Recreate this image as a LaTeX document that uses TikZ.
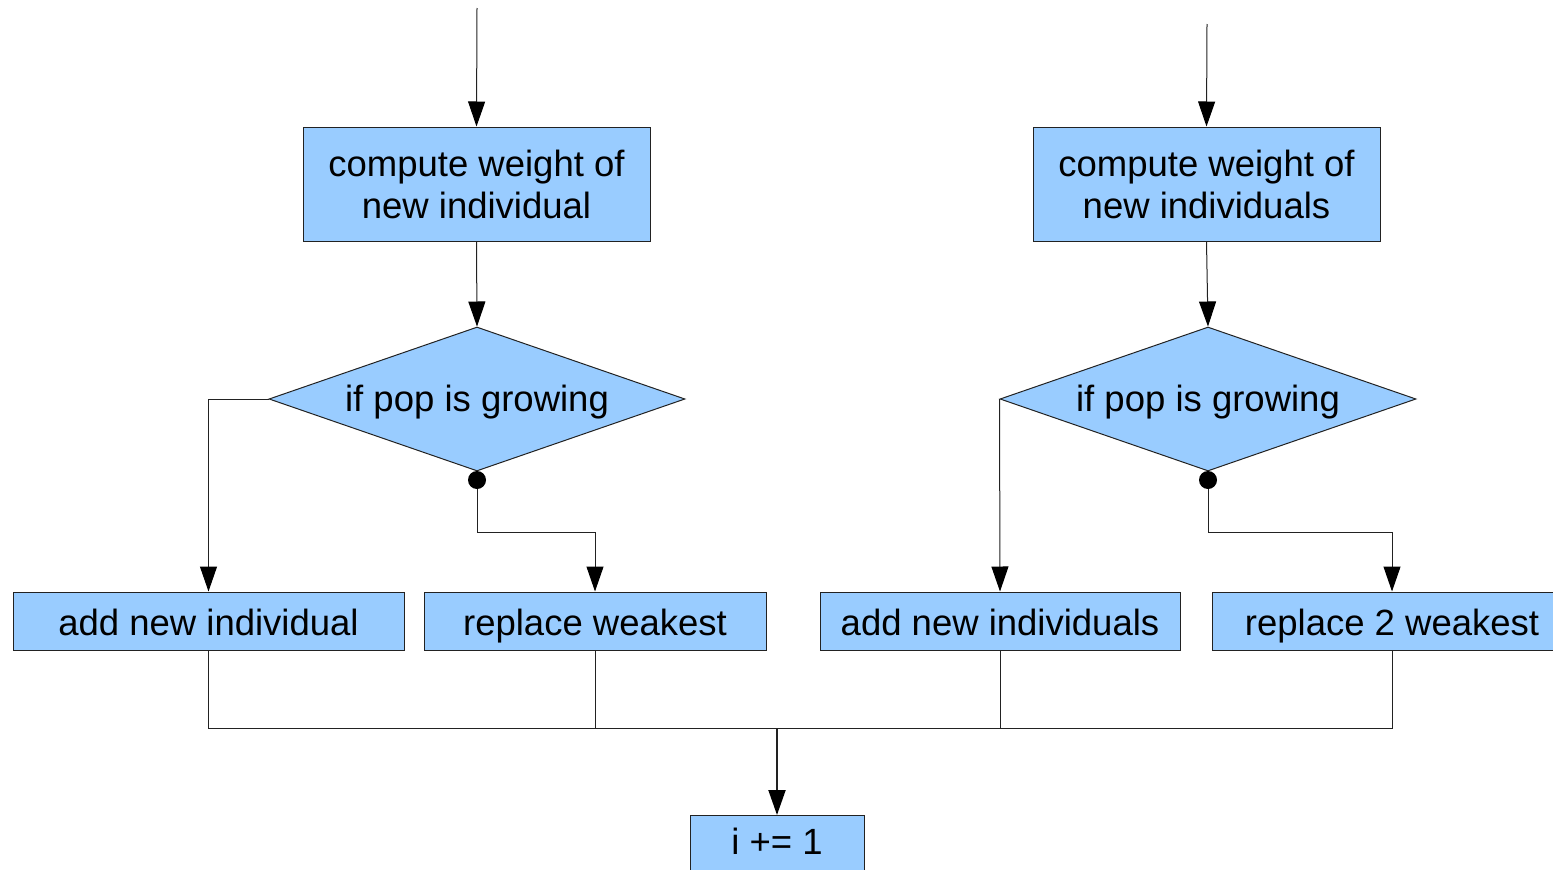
\documentclass[tikz,border=0pt]{standalone}
\usepackage{fontspec}
\setmainfont{Liberation Sans}
\usetikzlibrary{arrows.meta,shapes.geometric}
\definecolor{boxblue}{HTML}{99CCFF}
\definecolor{edge}{HTML}{222222}
\begin{document}
\begin{tikzpicture}[x=1pt,y=-1pt,
  every node/.style={font=\fontsize{36.5}{42}\selectfont, text=black},
  procbox/.style={draw=edge, line width=1pt, fill=boxblue, rectangle, inner sep=0pt, align=center},
  onebox/.style={procbox, text height=28pt, text depth=0pt},
  decbox/.style={draw=edge, line width=1pt, fill=boxblue, diamond, aspect=2.89, minimum width=416pt, minimum height=144pt, inner sep=0pt, text height=27pt, text depth=2pt},
  conn/.style={draw=edge, line width=1pt},
  arr/.style={conn, -{Triangle[length=25pt,width=17pt,fill=black,color=black]}},
]
\useasboundingbox (0,0) rectangle (1553,870);

% top coordinates
\coordinate (inL) at (477,8);
\coordinate (inR) at (1207,24);

% compute boxes
\node[procbox, minimum width=347pt, minimum height=114pt] (cL) at (476.5,184) {compute weight of\\new individual};
\node[procbox, minimum width=347pt, minimum height=114pt] (cR) at (1206.5,184) {compute weight of\\new individuals};

% diamonds
\node[decbox] (dL) at (477,399) {if pop is growing};
\node[decbox] (dR) at (1208,399) {if pop is growing};

% dots
\coordinate (pL) at (477,480);
\coordinate (pR) at (1208,480);

% action boxes
\node[onebox, minimum width=391pt, minimum height=58pt] (aL) at (208.5,621) {add new individual};
\node[onebox, minimum width=342pt, minimum height=58pt] (rL) at (595,621) {replace weakest};
\node[onebox, minimum width=360pt, minimum height=58pt] (aR) at (1000,621) {add new individuals};
\node[onebox, minimum width=360pt, minimum height=58pt] (rR) at (1392,621) {replace 2 weakest};

% final box
\node[procbox, minimum width=174pt, minimum height=80pt, anchor=north] (inc) at (777,815) {};
\node[text height=27pt, text depth=8pt, inner sep=0pt] (inctext) at (777,845) {i += 1};

% connectors
\draw[arr] (inL) -- (cL.north);
\draw[arr] (inR) -- (cR.north);
\draw[arr] (cL.south) -- (dL.north);
\draw[arr] (cR.south) -- (dR.north);

\draw[arr] (dL.west) -| (aL.north);
\draw[arr] (dR.west) -- (aR.north);

\draw[conn] (dL.south) -- (pL);
\draw[conn] (dR.south) -- (pR);
\draw[arr] (pL) -- (477,532) -| (rL.north);
\draw[arr] (pR) -- (1208,532) -| (rR.north);
\fill[black] (pL) circle (9pt);
\fill[black] (pR) circle (9pt);

\coordinate (j) at (777,728);
\draw[conn] (aL.south) |- (j);
\draw[conn] (rL.south) |- (j);
\draw[conn] (aR.south) |- (j);
\draw[conn] (rR.south) |- (j);
\draw[arr, line width=2pt] (j) -- (inc.north);
\end{tikzpicture}
\end{document}
